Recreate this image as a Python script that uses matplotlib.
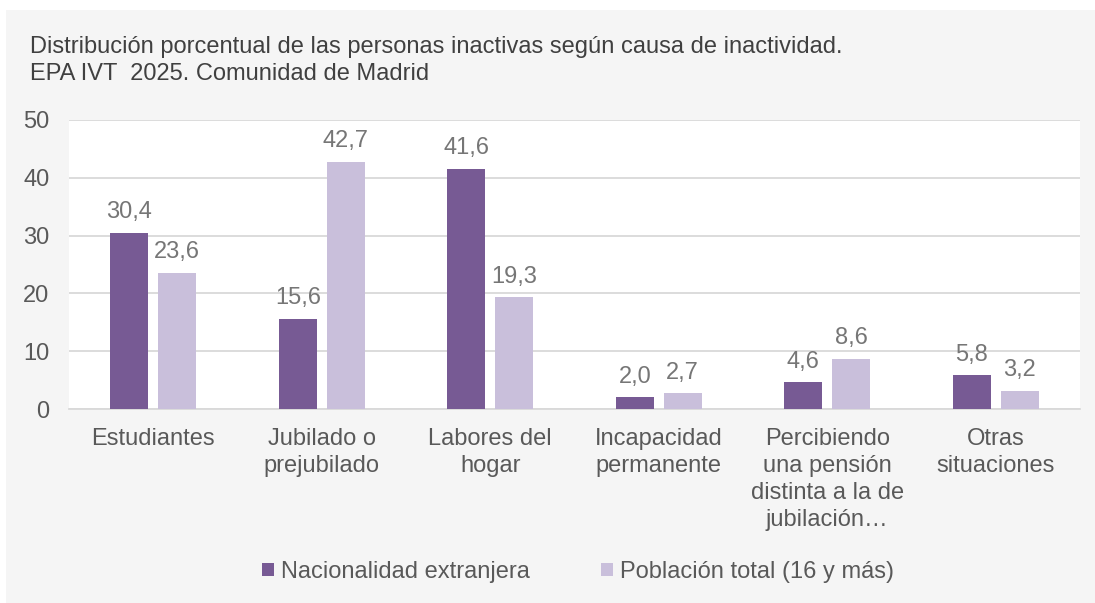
import matplotlib
matplotlib.use("Agg")
import matplotlib.pyplot as plt
from matplotlib.patches import Rectangle
import numpy as np

categories = ["Estudiantes", "Jubilado o\nprejubilado", "Labores del\nhogar",
              "Incapacidad\npermanente", "Percibiendo\nuna pensión\ndistinta a la de\njubilación…",
              "Otras\nsituaciones"]
extranjera = [30.4, 15.6, 41.6, 2.0, 4.6, 5.8]
total = [23.6, 42.7, 19.3, 2.7, 8.6, 3.2]
series_names = ["Nacionalidad extranjera", "Población total (16 y más)"]
yticks = [0, 10, 20, 30, 40, 50]

plt.rcParams['font.family'] = ['Liberation Sans', 'DejaVu Sans']

FS = 17
W, H = 1095, 603
fig = plt.figure(figsize=(W / 100, H / 100), dpi=100)
fig.patch.set_facecolor("white")
fig.patches.append(Rectangle((6 / W, 0), 1 - 6 / W, (H - 10) / H, transform=fig.transFigure,
                             facecolor="#f5f5f5", edgecolor="none", zorder=-10))

ax = fig.add_axes([69 / W, (H - 409) / H, (1080 - 69) / W, (409 - 120) / H])
ax.set_facecolor("white")

c_dark = "#775a94"
c_light = "#c9bfdb"
x = np.arange(len(categories))
bw = 0.225
off = 0.142
b1 = ax.bar(x - off, extranjera, bw, color=c_dark, label=series_names[0], zorder=3)
b2 = ax.bar(x + off, total, bw, color=c_light, label=series_names[1], zorder=3)

lab_color = "#767676"
for bars, vals in ((b1, extranjera), (b2, total)):
    for r, v in zip(bars, vals):
        ax.annotate(f"{v:.1f}".replace(".", ","), (r.get_x() + r.get_width() / 2, v),
                    xytext=(0, 15), textcoords="offset points", ha="center", va="center",
                    fontsize=FS, color=lab_color)

ax.set_xlim(-0.5, len(categories) - 0.5)
ax.set_ylim(0, 50)
ax.set_yticks(yticks)
ax.set_yticklabels([str(t) for t in yticks], fontsize=FS, color="#595959")
ax.set_xticks(x)
ax.set_xticklabels(categories, fontsize=FS, color="#595959", linespacing=1.29, va="top")
ax.tick_params(axis="both", length=0)
ax.tick_params(axis="y", pad=14)
ax.tick_params(axis="x", pad=14)
ax.grid(axis="y", color="#d9d9d9", linewidth=1.3, zorder=0)
for s in ["top", "right", "left"]:
    ax.spines[s].set_visible(False)
ax.spines["bottom"].set_color("#d9d9d9")
ax.spines["bottom"].set_linewidth(1.3)

fig.text(30 / W, 1 - 60.5 / H, "Distribución porcentual de las personas inactivas según causa de inactividad.\nEPA IVT  2025. Comunidad de Madrid",
         fontsize=FS, color="#404040", ha="left", va="center", linespacing=1.25)

leg = fig.legend(handles=[b1, b2], labels=series_names, loc="center", bbox_to_anchor=(578 / W, 1 - 572 / H),
                 ncol=2, frameon=False, fontsize=FS, handlelength=0.5, handleheight=0.5,
                 handletextpad=0.3, columnspacing=3.0)
for t in leg.get_texts():
    t.set_color("#595959")

fig.savefig("out.png", dpi=100, facecolor=fig.get_facecolor())
